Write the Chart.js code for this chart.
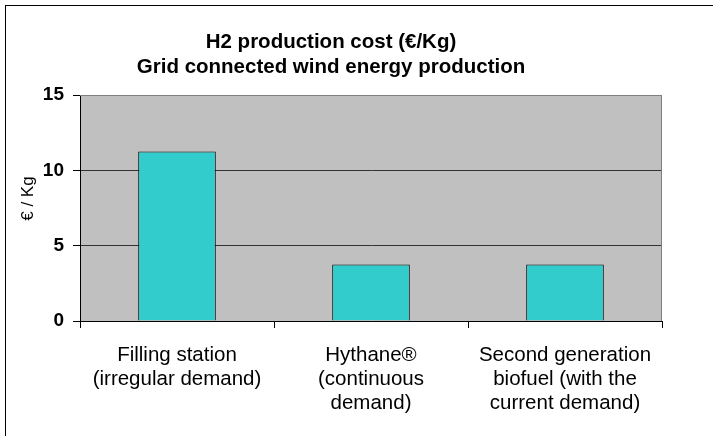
<!DOCTYPE html>
<html>
<head>
<meta charset="utf-8">
<script src="https://cdn.jsdelivr.net/npm/chart.js@4.4.0/dist/chart.umd.min.js"></script>
<style>
  html, body { margin: 0; padding: 0; background: #fff; }
  #wrap { position: absolute; left: 0; top: 0; width: 713px; height: 436px; }
  #frame { position: absolute; left: 5px; top: 5px; width: 720px; height: 440px; border: 1px solid #000; box-sizing: border-box; pointer-events: none; }
</style>
</head>
<body>
<div id="wrap">
  <canvas id="myChart" width="713" height="436"></canvas>
  <div id="frame"></div>
</div>
<script>
// chart data
var categories = [
    ['Filling station', '(irregular demand)'],
    ['Hythane\u00AE', '(continuous', 'demand)'],
    ['Second generation', 'biofuel (with the', 'current demand)']
];
var costValues = [11.25, 3.75, 3.75];
var yTicks = [0, 5, 10, 15];
var titleLines = ['H2 production cost (\u20AC/Kg)', 'Grid connected wind energy production'];
var yAxisLabel = '\u00A0\u00A0\u00A0\u00A0\u20AC / Kg';

// gray plot background + gray top/right edge like the old excel charts
const plotBg = {
    id: 'plotBg',
    beforeDraw: function(chart) {
        var a = chart.chartArea;
        var c = chart.ctx;
        c.save();
        c.fillStyle = '#C0C0C0';
        c.fillRect(a.left, a.top, a.right - a.left, a.bottom - a.top);
        c.restore();
    },
    afterDatasetsDraw: function(chart) {
        var a = chart.chartArea;
        var c = chart.ctx;
        c.save();
        c.strokeStyle = '#808080';
        c.lineWidth = 1;
        c.beginPath();
        c.moveTo(a.left, a.top + 0.5);
        c.lineTo(a.right - 0.5, a.top + 0.5);
        c.lineTo(a.right - 0.5, a.bottom);
        c.stroke();
        c.restore();
    }
};

const ctx = document.getElementById('myChart').getContext('2d');
var myChart = new Chart(ctx, {
    type: 'bar',
    data: {
        labels: categories,
        datasets: [{
            label: 'H2 production cost',
            data: costValues,
            backgroundColor: '#33CCCC',
            borderColor: '#000000',
            borderWidth: 1,
            borderSkipped: 'bottom',
            categoryPercentage: 1.0,
            barPercentage: 0.4
        }]
    },
    options: {
        responsive: false,
        animation: false,
        layout: { padding: { left: 0, right: 51, top: 0, bottom: 0 } },
        plugins: {
            legend: { display: false },
            tooltip: { enabled: false },
            title: {
                display: true,
                text: titleLines,
                color: '#000',
                font: { family: 'Arial, "Liberation Sans"', size: 20.5, weight: 'bold', lineHeight: 1.22 },
                padding: { top: 30, bottom: 15 }
            }
        },
        scales: {
            x: {
                grid: {
                    drawOnChartArea: false,
                    tickLength: 7,
                    tickColor: '#000',
                    offset: true
                },
                border: { color: '#000', width: 1 },
                ticks: {
                    color: '#000',
                    font: { family: 'Arial, "Liberation Sans"', size: 20.5, lineHeight: 1.18 },
                    maxRotation: 0,
                    autoSkip: false,
                    padding: 15
                },
                afterFit: function(scale) { scale.height = 115; }
            },
            y: {
                min: 0,
                max: 15,
                afterBuildTicks: function(scale) {
                    scale.ticks = yTicks.map(function(v) { return { value: v }; });
                },
                grid: {
                    color: function(c) {
                        if (c.tick && c.tick.value === 15) return '#808080';
                        if (c.tick && c.tick.value === 0) return '#000';
                        return '#333333';
                    },
                    tickColor: '#000',
                    tickLength: 7
                },
                border: { color: '#000', width: 1 },
                ticks: {
                    color: '#000',
                    font: { family: 'Arial, "Liberation Sans"', size: 19, weight: 'bold' },
                    padding: 9
                },
                title: {
                    display: true,
                    text: yAxisLabel,
                    color: '#000',
                    font: { family: 'Arial, "Liberation Sans"', size: 17 },
                    padding: { top: 18, bottom: 0 }
                },
                afterFit: function(scale) { scale.width = 80; }
            }
        }
    },
    plugins: [plotBg]
});
</script>
</body>
</html>
